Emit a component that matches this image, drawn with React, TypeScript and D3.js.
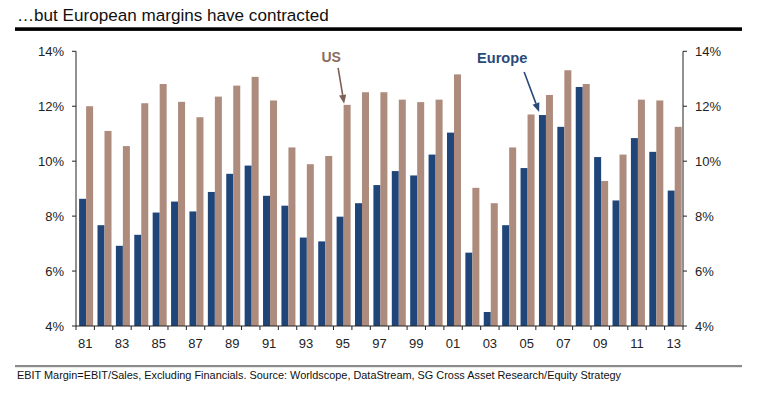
import React from "react";
import * as d3 from "d3";

const years: number[] = [
  1981, 1982, 1983, 1984, 1985, 1986, 1987, 1988, 1989, 1990, 1991, 1992, 1993, 1994, 1995, 1996, 1997,
  1998, 1999, 2000, 2001, 2002, 2003, 2004, 2005, 2006, 2007, 2008, 2009, 2010, 2011, 2012, 2013,
];
const europe: number[] = [
  8.63, 7.67, 6.92, 7.32, 8.13, 8.53, 8.17, 8.88, 9.54, 9.84, 8.74, 8.38, 7.22, 7.08, 7.98, 8.47, 9.13,
  9.64, 9.48, 10.24, 11.04, 6.67, 4.51, 7.67, 9.75, 11.68, 11.25, 12.7, 10.15, 8.57, 10.84, 10.34, 8.93,
];
const us: number[] = [
  12.0, 11.1, 10.55, 12.11, 12.81, 12.16, 11.6, 12.35, 12.75, 13.07, 12.21, 10.5, 9.89, 10.19, 12.05, 12.51, 12.51,
  12.24, 12.15, 12.24, 13.16, 9.03, 8.47, 10.5, 11.7, 12.41, 13.31, 12.81, 9.28, 10.24, 12.24, 12.21, 11.25,
];
const yTicks: number[] = [4, 6, 8, 10, 12, 14];
const labelYears: number[] = years.filter((_, i) => i % 2 === 0);

const title = "…but European margins have contracted";
const footnote =
  "EBIT Margin=EBIT/Sales, Excluding Financials. Source: Worldscope, DataStream, SG Cross Asset Research/Equity Strategy";

const NAVY = "#1F4579";
const TAN = "#AD8B7D";
const FONT = "'Liberation Sans', Arial, sans-serif";

function Arrow({ x1, y1, x2, y2, color }: { x1: number; y1: number; x2: number; y2: number; color: string }) {
  const ang = Math.atan2(y2 - y1, x2 - x1);
  const len = 9;
  const half = 3.6;
  const bx = x2 - len * Math.cos(ang);
  const by = y2 - len * Math.sin(ang);
  const px = -Math.sin(ang) * half;
  const py = Math.cos(ang) * half;
  return (
    <g>
      <line x1={x1} y1={y1} x2={bx} y2={by} stroke={color} strokeWidth={1.6} />
      <path d={`M${x2},${y2}L${bx + px},${by + py}L${bx - px},${by - py}Z`} fill={color} />
    </g>
  );
}

export default function App() {
  const W = 777;
  const H = 397;
  const left = 76;
  const right = 683;
  const top = 51.3;
  const bottom = 326;

  const x = d3.scaleBand<number>().domain(years).range([left, right]).paddingInner(0).paddingOuter(0);
  const y = d3.scaleLinear().domain([4, 14]).range([bottom, top]);
  const step = x.step();
  const barW = 7;
  const off = 3.1;

  const euX = (yr: number) => (x(yr) as number) + off;
  const usX = (yr: number) => (x(yr) as number) + off + barW;

  const i95 = years.indexOf(1995);
  const i06 = years.indexOf(2006);
  const usTipX = usX(1995) + 0.5;
  const usTipY = y(us[i95]) - 1;
  const euTipX = euX(2006) + 0.2;
  const euTipY = y(europe[i06]) - 3;

  const boundaries = d3.range(years.length + 1).map((i) => left + i * step);

  return (
    <svg
      width={W}
      height={H}
      style={{ position: "absolute", left: 0, top: 0, background: "#fff" }}
      fontFamily={FONT}
    >
      <rect x={0} y={0} width={W} height={H} fill="#fff" />
      <text x={17} y={20.5} fontSize={17.1} fill="#111">
        {title}
      </text>
      <rect x={15} y={27.3} width={727} height={3.6} fill="#000" />

      {years.map((yr, i) => (
        <g key={yr}>
          <rect x={euX(yr)} y={y(europe[i])} width={barW} height={bottom - y(europe[i])} fill={NAVY} />
          <rect x={usX(yr)} y={y(us[i])} width={barW} height={bottom - y(us[i])} fill={TAN} />
        </g>
      ))}

      {/* axes */}
      <line x1={left} x2={left} y1={top} y2={bottom} stroke="#222" strokeWidth={1} />
      <line x1={right} x2={right} y1={top} y2={bottom} stroke="#222" strokeWidth={1} />
      <line x1={left} x2={right} y1={bottom} y2={bottom} stroke="#222" strokeWidth={1} />
      {yTicks.map((t) => (
        <g key={t}>
          <line x1={left - 4} x2={left} y1={y(t)} y2={y(t)} stroke="#222" />
          <line x1={right} x2={right + 4} y1={y(t)} y2={y(t)} stroke="#222" />
          <text x={64} y={y(t)} dy="0.36em" fontSize={13} textAnchor="end" fill="#222">
            {`${t}%`}
          </text>
          <text x={695} y={y(t)} dy="0.36em" fontSize={13} textAnchor="start" fill="#222">
            {`${t}%`}
          </text>
        </g>
      ))}
      {boundaries.map((b, i) => (
        <line key={i} x1={b} x2={b} y1={bottom} y2={bottom + 4} stroke="#222" />
      ))}
      {labelYears.map((yr) => (
        <text
          key={yr}
          x={(x(yr) as number) + step / 2}
          y={348.3}
          fontSize={13}
          textAnchor="middle"
          fill="#222"
        >
          {String(yr % 100).padStart(2, "0")}
        </text>
      ))}

      {/* annotations */}
      <text x={321.5} y={61.7} fontSize={14} fontWeight="bold" fill="#8C6C60">
        US
      </text>
      <Arrow x1={usTipX - 6} y1={usTipY - 36} x2={usTipX} y2={usTipY} color="#7E5F55" />
      <text x={477} y={63} fontSize={14.6} fontWeight="bold" fill="#2A4A7A">
        Europe
      </text>
      <Arrow x1={euTipX - 15} y1={euTipY - 40} x2={euTipX} y2={euTipY} color="#2A4A7A" />

      <rect x={15} y={365} width={727} height={2.2} fill="#8A8A8A" />
      <text x={17} y={379} fontSize={10.9} fill="#111">
        {footnote}
      </text>
    </svg>
  );
}
